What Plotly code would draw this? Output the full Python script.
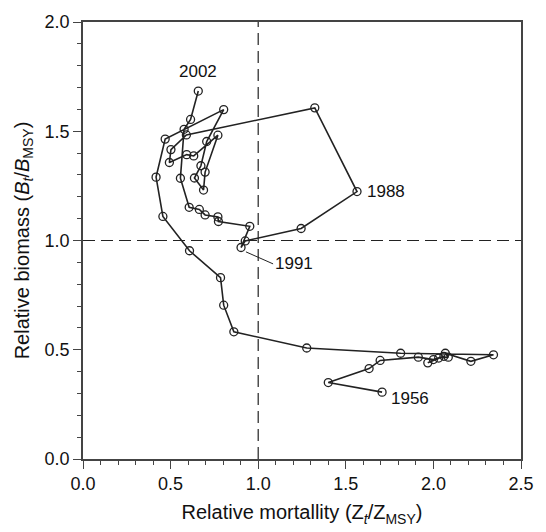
import plotly.graph_objects as go

# Trajectory (relative mortality, relative biomass), 1956 -> 2002
mortality = [1.707, 1.400, 1.633, 1.696,
             1.914, 2.000, 2.060, 1.968, 2.030, 2.085, 2.068,
             2.214, 2.343, 1.813, 1.277,
             0.861, 0.803, 0.785, 0.608, 0.456, 0.417, 0.469,
             0.803, 0.706, 0.673, 0.636, 0.688, 0.697, 0.770,
             0.632, 0.592, 0.493, 0.502, 0.590, 1.323,
             1.564, 1.245, 0.926, 0.902,
             0.952, 0.773, 0.770, 0.697, 0.664, 0.606, 0.556,
             0.577, 0.614, 0.658]
biomass = [0.306, 0.350, 0.414, 0.451,
           0.466, 0.455, 0.470, 0.440, 0.462, 0.466, 0.484,
           0.447, 0.477, 0.484, 0.508,
           0.582, 0.704, 0.830, 0.953, 1.110, 1.290, 1.464,
           1.599, 1.453, 1.342, 1.286, 1.231, 1.313, 1.482,
           1.387, 1.393, 1.357, 1.416, 1.483, 1.607,
           1.224, 1.055, 0.998, 0.968,
           1.065, 1.087, 1.108, 1.117, 1.142, 1.152, 1.285,
           1.509, 1.554, 1.684]

label_years = ["1956", "1988", "1991", "2002"]
label_x = [1.745, 1.612, 1.085, 0.655]
label_y = [0.275, 1.224, 0.893, 1.775]

x_ticks = [0.0, 0.5, 1.0, 1.5, 2.0, 2.5]
y_ticks = [0.0, 0.5, 1.0, 1.5, 2.0]

fig = go.Figure()
fig.add_trace(go.Scatter(
    x=mortality, y=biomass, mode="lines+markers",
    line=dict(color="#222222", width=1.6),
    marker=dict(symbol="circle-open", size=8, color="#222222",
                line=dict(width=1.3, color="#222222")),
    showlegend=False, hoverinfo="skip"))

fig.add_hline(y=1.0, line=dict(color="#222222", width=1.2, dash="12px,6px"))
fig.add_vline(x=1.0, line=dict(color="#222222", width=1.2, dash="12px,6px"))

font_lbl = dict(family="Liberation Sans, Arial, sans-serif", size=17, color="#111111")
# 1956, 1988: left-aligned
fig.add_annotation(x=label_x[0], y=label_y[0], text=label_years[0], showarrow=False,
                   xanchor="left", yanchor="middle", font=font_lbl)
fig.add_annotation(x=label_x[1], y=label_y[1], text=label_years[1], showarrow=False,
                   xanchor="left", yanchor="middle", font=font_lbl)
# 1991 with leader line
fig.add_annotation(x=0.93, y=0.948, ax=label_x[2], ay=label_y[2], axref="x", ayref="y",
                   text=label_years[2], showarrow=True, arrowhead=0, arrowwidth=1,
                   arrowcolor="#222222", xanchor="left", yanchor="middle", font=font_lbl)
fig.add_annotation(x=label_x[3], y=label_y[3], text=label_years[3], showarrow=False,
                   xanchor="center", yanchor="middle", font=font_lbl)

axis_common = dict(
    showline=True, linecolor="#444444", linewidth=1.5, mirror=True,
    ticks="outside", ticklen=8, tickwidth=1.3, tickcolor="#444444",
    showgrid=False, zeroline=False,
    tickfont=dict(family="Liberation Sans, Arial, sans-serif", size=18, color="#111111"),
    minor=dict(ticks="outside", ticklen=4, tickwidth=1.2, tickcolor="#444444", dtick=0.1),
)

fig.update_xaxes(range=[0, 2.5], tickvals=x_ticks, ticktext=[f"{v:.1f}" for v in x_ticks],
                 title=dict(text="Relative mortallity (Z<sub><i>t</i></sub>/Z<sub>MSY</sub>)",
                            font=dict(family="Liberation Sans, Arial, sans-serif", size=20, color="#111111"),
                            standoff=12),
                 **axis_common)
fig.update_yaxes(range=[0, 2.0], tickvals=y_ticks, ticktext=[f"{v:.1f}" for v in y_ticks],
                 title=dict(text="Relative biomass (<i>B<sub>t</sub></i>/<i>B</i><sub>MSY</sub>)",
                            font=dict(family="Liberation Sans, Arial, sans-serif", size=20, color="#111111"),
                            standoff=10),
                 **axis_common)

fig.update_layout(width=546, height=532, margin=dict(l=83, r=14, t=19, b=64),
                  plot_bgcolor="white", paper_bgcolor="white")

fig.write_html("out.html")
